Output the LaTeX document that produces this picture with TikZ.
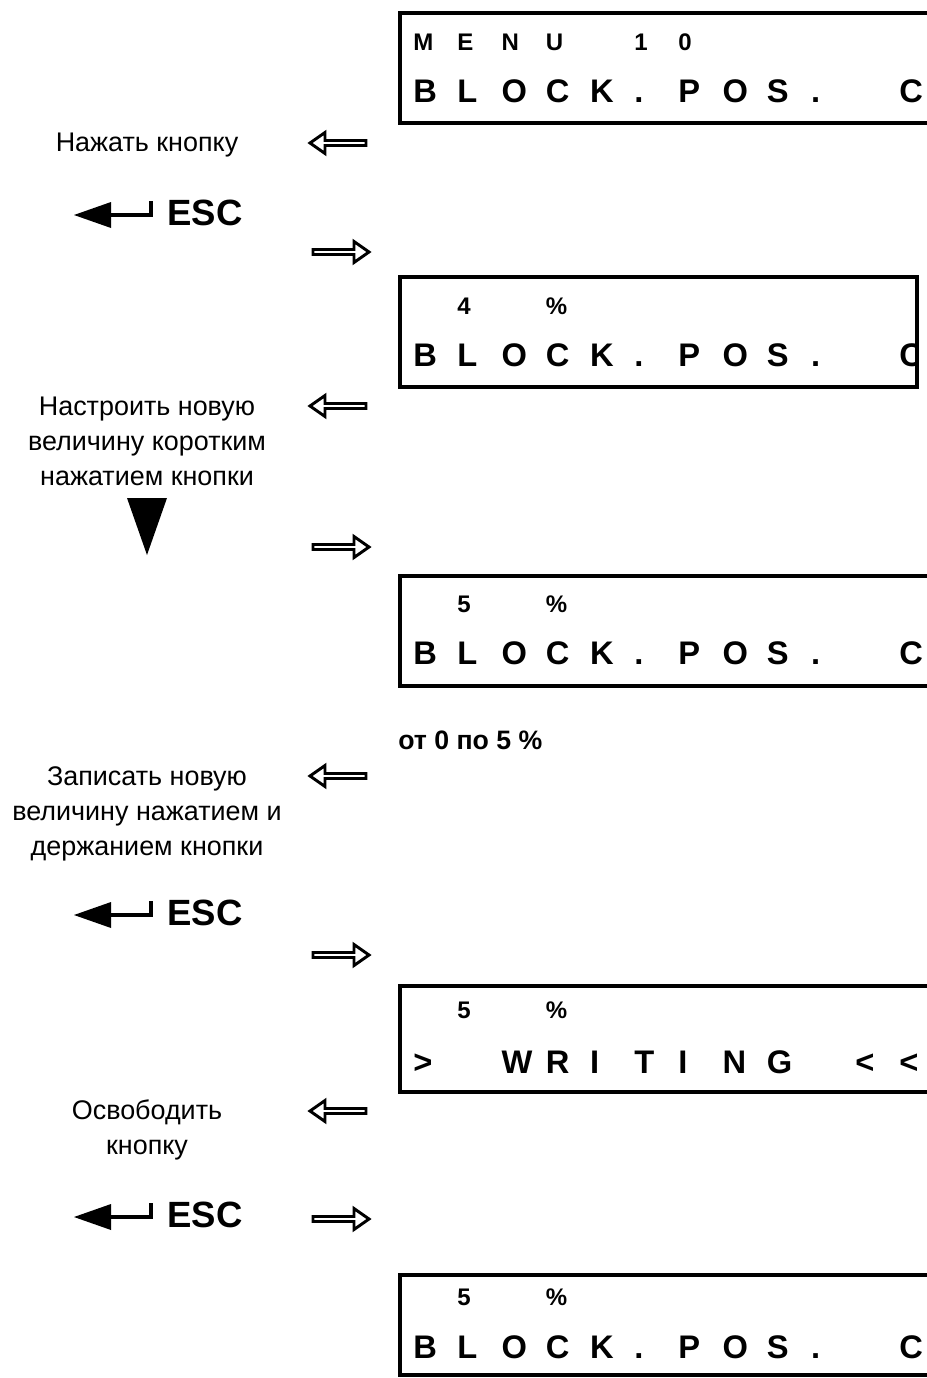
\documentclass[tikz,border=0pt]{standalone}
\usepackage{fontspec}
\setmainfont{Liberation Sans}
\newcommand\lcdrow[4]{%
  \foreach \ch [count=\i from 0] in {#4} {%
    \node[#3] (#1-\i) at ({413+44.2*\i},#2) {\ch};}}
\tikzset{
  lcd/.style={line width=3pt, line cap=rect},
  lbl/.style={font=\fontsize{20.2}{24}\selectfont, anchor=base, inner sep=0pt},
  lcda/.style={font=\bfseries\fontsize{18}{20}\selectfont, anchor=base west, inner sep=0pt},
  lcdb/.style={font=\bfseries\fontsize{24.5}{27}\selectfont, anchor=base west, inner sep=0pt},
  esctxt/.style={font=\bfseries\fontsize{27.4}{30}\selectfont, anchor=base west, inner sep=0pt},
  hollow/.style={draw, line width=2.2pt, fill=white, line join=miter},
  leftarr/.pic={\draw[hollow] (0,0) -- (15,-10.5) -- (15,-2.5) -- (56,-2.5) -- (56,2.5) -- (15,2.5) -- (15,10.5) -- cycle;},
  rightarr/.pic={\draw[hollow] (0,0) -- (-15,-10.5) -- (-15,-2.5) -- (-56,-2.5) -- (-56,2.5) -- (-15,2.5) -- (-15,10.5) -- cycle;},
  escarr/.pic={\fill (0,0) -- (37,-13) -- (37,13) -- cycle;
               \draw[line width=3.2pt] (34,0) -- (77,0) -- (77,-14);},
}
\begin{document}
\begin{tikzpicture}[x=0.75pt,y=-0.75pt]
\fill[white] (0,0) rectangle (927,1378);
\useasboundingbox (0,0) rectangle (927,1378);

% ---------- LCD 1
\lcdrow{a1}{50}{lcda}{M,E,N,U,{},1,0}
\lcdrow{a2}{102}{lcdb}{B,L,O,C,K,.,P,O,S,.,{},C}
\draw[lcd] (930,13) -- (400,13) -- (400,123) -- (930,123);

% ---------- LCD 2
\lcdrow{b1}{314}{lcda}{{},4,{},\%}
\begin{scope}
\clip (0,250) rectangle (917,400);
\lcdrow{b2}{366}{lcdb}{B,L,O,C,K,.,P,O,S,.,{},C}
\end{scope}
\draw[lcd] (400,277) rectangle (917,387);

% ---------- LCD 3
\lcdrow{c1}{612}{lcda}{{},5,{},\%}
\lcdrow{c2}{664}{lcdb}{B,L,O,C,K,.,P,O,S,.,{},C}
\draw[lcd] (930,576) -- (400,576) -- (400,686) -- (930,686);

\node[font=\bfseries\fontsize{20}{22}\selectfont, anchor=base west, inner sep=0pt] (range) at (398,749) {от 0 по 5 \%};

% ---------- LCD 4
\lcdrow{d1}{1018}{lcda}{{},5,{},\%}
\lcdrow{d2}{1073}{lcdb}{>,{},W,R,I,T,I,N,G,{},<,<}
\draw[lcd] (930,986) -- (400,986) -- (400,1092) -- (930,1092);

% ---------- LCD 5
\lcdrow{e1}{1305}{lcda}{{},5,{},\%}
\lcdrow{e2}{1358}{lcdb}{B,L,O,C,K,.,P,O,S,.,{},C}
\draw[lcd] (930,1275) -- (400,1275) -- (400,1375) -- (930,1375);

% ---------- labels
\node[lbl] (l1) at (147,151) {Нажать кнопку};
\node[lbl] (l2a) at (147,415) {Настроить новую};
\node[lbl] (l2b) at (147,450) {величину коротким};
\node[lbl] (l2c) at (147,485) {нажатием кнопки};
\node[lbl] (l3a) at (147,785) {Записать новую};
\node[lbl] (l3b) at (147,820) {величину нажатием и};
\node[lbl] (l3c) at (147,855) {держанием кнопки};
\node[lbl] (l4a) at (147,1119) {Освободить};
\node[lbl] (l4b) at (147,1154) {кнопку};

% ---------- key symbols
\pic at (74,215) {escarr};
\node[esctxt] (esc1) at (167,225) {ESC};
\pic at (74,915) {escarr};
\node[esctxt] (esc2) at (167,925) {ESC};
\pic at (74,1217) {escarr};
\node[esctxt] (esc3) at (167,1227) {ESC};
\fill (127,498) -- (167,498) -- (147,555) -- cycle;

% ---------- hollow arrows
\pic at (310,143) {leftarr};
\pic at (310,406) {leftarr};
\pic at (310,776) {leftarr};
\pic at (310,1111) {leftarr};
\pic at (369,252) {rightarr};
\pic at (369,547) {rightarr};
\pic at (369,955) {rightarr};
\pic at (369,1219) {rightarr};
\end{tikzpicture}
\end{document}
